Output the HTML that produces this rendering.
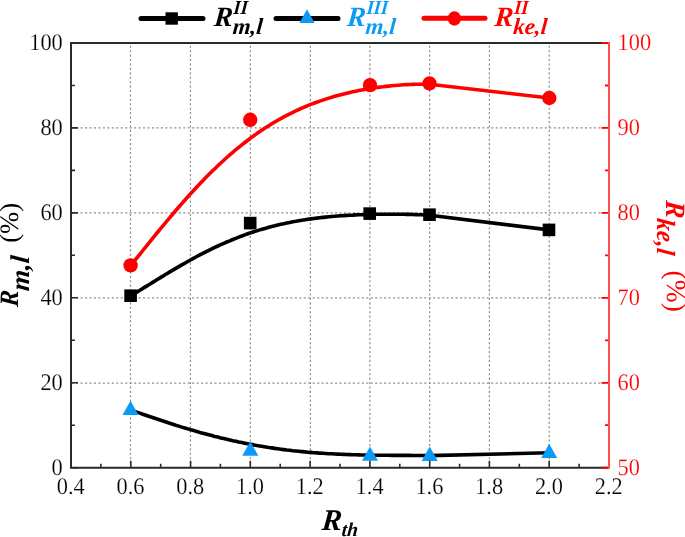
<!DOCTYPE html><html><head><meta charset="utf-8"><style>html,body{margin:0;padding:0;background:#fff;overflow:hidden}svg{display:block;will-change:transform}text{font-family:"Liberation Serif",serif;text-rendering:geometricPrecision}</style></head><body>
<svg width="685" height="537" viewBox="0 0 685 537">
<rect width="685" height="537" fill="#fff"/>
<path d="M130.50,45.75V466.7M190.45,45.75V466.7M250.35,45.75V466.7M310.40,45.75V466.7M369.85,45.75V466.7M429.65,45.75V466.7M489.40,45.75V466.7M549.25,45.75V466.7" stroke="#8e8e8e" stroke-width="1.2" stroke-dasharray="2.1 2.324" fill="none"/>
<path d="M71.6,383.20H608.0M71.6,297.80H608.0M71.6,212.90H608.0M71.6,127.80H608.0" stroke="#8e8e8e" stroke-width="1.2" stroke-dasharray="2.1 2.364" fill="none"/>
<path d="M130.8,295.7 L133.8,293.9 L136.8,292.1 L139.8,290.3 L142.8,288.4 L145.8,286.6 L148.8,284.8 L151.8,282.9 L154.8,281.1 L157.8,279.2 L160.8,277.4 L163.8,275.6 L166.8,273.7 L169.8,271.9 L172.8,270.1 L175.8,268.4 L178.8,266.6 L181.8,264.9 L184.8,263.2 L187.8,261.5 L190.8,259.8 L193.8,258.1 L196.8,256.5 L199.8,254.9 L202.8,253.4 L205.8,251.9 L208.8,250.4 L211.8,248.9 L214.8,247.4 L217.8,246.0 L220.8,244.7 L223.8,243.3 L226.8,242.0 L229.8,240.8 L232.8,239.5 L235.8,238.3 L238.8,237.1 L241.8,236.0 L244.8,234.9 L247.8,233.8 L250.8,232.8 L253.8,231.8 L256.8,230.9 L259.8,229.9 L262.8,229.0 L265.8,228.2 L268.8,227.3 L271.8,226.5 L274.8,225.8 L277.8,225.0 L280.8,224.3 L283.8,223.7 L286.8,223.0 L289.8,222.4 L292.8,221.8 L295.8,221.3 L298.8,220.7 L301.8,220.2 L304.8,219.8 L307.8,219.3 L310.8,218.9 L313.8,218.5 L316.8,218.1 L319.8,217.7 L322.8,217.4 L325.8,217.1 L328.8,216.8 L331.8,216.5 L334.8,216.2 L337.8,216.0 L340.8,215.8 L343.8,215.6 L346.8,215.4 L349.8,215.2 L352.8,215.1 L355.8,214.9 L358.8,214.8 L361.8,214.7 L364.8,214.6 L367.8,214.5 L370.8,214.4 L373.8,214.3 L376.8,214.3 L379.8,214.2 L382.8,214.2 L385.8,214.2 L388.8,214.2 L391.8,214.2 L394.8,214.2 L397.8,214.2 L400.8,214.3 L403.8,214.3 L406.8,214.4 L409.8,214.4 L412.8,214.5 L415.8,214.6 L418.8,214.7 L421.8,214.8 L424.8,215.0 L427.8,215.1 L429.7,215.2 L549.2,229.9" stroke="#000" stroke-width="3.6" fill="none" stroke-linejoin="round"/>
<path d="M130.8,410.0 L133.8,411.1 L136.8,412.1 L139.8,413.1 L142.8,414.2 L145.8,415.2 L148.8,416.3 L151.8,417.3 L154.8,418.3 L157.8,419.3 L160.8,420.3 L163.8,421.3 L166.8,422.3 L169.8,423.3 L172.8,424.2 L175.8,425.2 L178.8,426.1 L181.8,427.1 L184.8,428.0 L187.8,428.9 L190.8,429.8 L193.8,430.6 L196.8,431.5 L199.8,432.4 L202.8,433.2 L205.8,434.0 L208.8,434.8 L211.8,435.6 L214.8,436.4 L217.8,437.1 L220.8,437.9 L223.8,438.6 L226.8,439.3 L229.8,440.0 L232.8,440.7 L235.8,441.3 L238.8,442.0 L241.8,442.6 L244.8,443.2 L247.8,443.8 L250.8,444.4 L253.8,444.9 L256.8,445.5 L259.8,446.0 L262.8,446.5 L265.8,447.0 L268.8,447.5 L271.8,447.9 L274.8,448.4 L277.8,448.8 L280.8,449.2 L283.8,449.6 L286.8,450.0 L289.8,450.3 L292.8,450.7 L295.8,451.0 L298.8,451.3 L301.8,451.6 L304.8,451.9 L307.8,452.2 L310.8,452.4 L313.8,452.7 L316.8,452.9 L319.8,453.1 L322.8,453.3 L325.8,453.5 L328.8,453.7 L331.8,453.8 L334.8,454.0 L337.8,454.1 L340.8,454.3 L343.8,454.4 L346.8,454.5 L349.8,454.6 L352.8,454.7 L355.8,454.8 L358.8,454.9 L361.8,455.0 L364.8,455.0 L367.8,455.1 L370.8,455.1 L373.8,455.2 L376.8,455.2 L379.8,455.3 L382.8,455.3 L385.8,455.3 L388.8,455.3 L391.8,455.4 L394.8,455.4 L397.8,455.4 L400.8,455.4 L403.8,455.4 L406.8,455.4 L409.8,455.4 L412.8,455.5 L415.8,455.5 L418.8,455.5 L421.8,455.5 L424.8,455.6 L427.8,455.6 L429.6,455.6 L549.2,452.8" stroke="#000" stroke-width="3.6" fill="none" stroke-linejoin="round"/>
<path d="M130.8,265.4 L133.8,261.7 L136.8,258.0 L139.8,254.3 L142.8,250.5 L145.8,246.8 L148.8,243.1 L151.8,239.4 L154.8,235.7 L157.8,232.0 L160.8,228.4 L163.8,224.8 L166.8,221.1 L169.8,217.6 L172.8,214.0 L175.8,210.5 L178.8,207.0 L181.8,203.6 L184.8,200.2 L187.8,196.8 L190.8,193.5 L193.8,190.2 L196.8,187.0 L199.8,183.8 L202.8,180.7 L205.8,177.6 L208.8,174.6 L211.8,171.6 L214.8,168.7 L217.8,165.8 L220.8,163.0 L223.8,160.2 L226.8,157.5 L229.8,154.9 L232.8,152.3 L235.8,149.7 L238.8,147.3 L241.8,144.9 L244.8,142.5 L247.8,140.2 L250.8,137.9 L253.8,135.8 L256.8,133.6 L259.8,131.6 L262.8,129.5 L265.8,127.6 L268.8,125.7 L271.8,123.8 L274.8,122.0 L277.8,120.3 L280.8,118.6 L283.8,116.9 L286.8,115.4 L289.8,113.8 L292.8,112.3 L295.8,110.9 L298.8,109.5 L301.8,108.2 L304.8,106.9 L307.8,105.6 L310.8,104.4 L313.8,103.3 L316.8,102.2 L319.8,101.1 L322.8,100.1 L325.8,99.1 L328.8,98.1 L331.8,97.2 L334.8,96.3 L337.8,95.5 L340.8,94.7 L343.8,93.9 L346.8,93.2 L349.8,92.5 L352.8,91.8 L355.8,91.2 L358.8,90.6 L361.8,90.0 L364.8,89.4 L367.8,88.9 L370.8,88.4 L373.8,88.0 L376.8,87.5 L379.8,87.1 L382.8,86.8 L385.8,86.4 L388.8,86.1 L391.8,85.8 L394.8,85.5 L397.8,85.2 L400.8,85.0 L403.8,84.8 L406.8,84.6 L409.8,84.5 L412.8,84.4 L415.8,84.3 L418.8,84.2 L421.8,84.2 L424.8,84.2 L427.8,84.2 L429.6,84.2 L549.3,98.0" stroke="#f00" stroke-width="3.6" fill="none" stroke-linejoin="round"/>
<rect x="124.3" y="289.4" width="12.6" height="12.6" fill="#000"/>
<rect x="243.9" y="216.8" width="12.6" height="12.6" fill="#000"/>
<rect x="363.4" y="207.3" width="12.6" height="12.6" fill="#000"/>
<rect x="423.2" y="208.4" width="12.6" height="12.6" fill="#000"/>
<rect x="542.7" y="223.6" width="12.6" height="12.6" fill="#000"/>
<circle cx="130.6" cy="265.4" r="7.2" fill="#f00"/>
<circle cx="250.2" cy="119.8" r="7.2" fill="#f00"/>
<circle cx="370" cy="85.1" r="7.2" fill="#f00"/>
<circle cx="429.5" cy="83.5" r="7.2" fill="#f00"/>
<circle cx="549.3" cy="98" r="7.2" fill="#f00"/>
<path d="M130.5,400.8L138.5,415.1L122.5,415.1Z" fill="#0a9bf7"/>
<path d="M250.3,441.5L258.3,455.8L242.3,455.8Z" fill="#0a9bf7"/>
<path d="M370,446.4L378,460.7L362,460.7Z" fill="#0a9bf7"/>
<path d="M429.7,446.6L437.7,460.90000000000003L421.7,460.90000000000003Z" fill="#0a9bf7"/>
<path d="M549.2,443.8L557.2,458.1L541.2,458.1Z" fill="#0a9bf7"/>
<path d="M71.0,467.7h7M71.0,425.2h4M71.0,382.8h7M71.0,340.3h4M71.0,297.8h7M71.0,255.3h4M71.0,212.9h7M71.0,170.4h4M71.0,127.9h7M71.0,85.5h4M71.0,43.0h7M71.0,467.7v-7M100.9,467.7v-4M130.8,467.7v-7M160.7,467.7v-4M190.6,467.7v-7M220.4,467.7v-4M250.3,467.7v-7M280.2,467.7v-4M310.1,467.7v-7M340.0,467.7v-4M369.9,467.7v-7M399.8,467.7v-4M429.7,467.7v-7M459.6,467.7v-4M489.4,467.7v-7M519.3,467.7v-4M549.2,467.7v-7M579.1,467.7v-4M609.0,467.7v-7" stroke="#2b2b2b" stroke-width="1.6" fill="none"/>
<path d="M71.0,43.0H609.0M71.0,42.0V468.7M70.0,467.7H609.0" stroke="#2b2b2b" stroke-width="2" fill="none"/>
<path d="M609.0,467.7h-7.5M609.0,425.2h-4M609.0,382.8h-7.5M609.0,340.3h-4M609.0,297.8h-7.5M609.0,255.3h-4M609.0,212.9h-7.5M609.0,170.4h-4M609.0,127.9h-7.5M609.0,85.5h-4M609.0,43.0h-7.5" stroke="#f00" stroke-width="1.8" fill="none"/>
<path d="M609.0,42.0V468.7" stroke="#ff5050" stroke-width="2" fill="none"/>
<text transform="translate(62.8,474.5) scale(0.94,1)" font-size="23.8" text-anchor="end" stroke="#fff" stroke-width="0.2">0</text>
<text transform="translate(62.8,389.6) scale(0.94,1)" font-size="23.8" text-anchor="end" stroke="#fff" stroke-width="0.2">20</text>
<text transform="translate(62.8,304.6) scale(0.94,1)" font-size="23.8" text-anchor="end" stroke="#fff" stroke-width="0.2">40</text>
<text transform="translate(62.8,219.7) scale(0.94,1)" font-size="23.8" text-anchor="end" stroke="#fff" stroke-width="0.2">60</text>
<text transform="translate(62.8,134.7) scale(0.94,1)" font-size="23.8" text-anchor="end" stroke="#fff" stroke-width="0.2">80</text>
<text transform="translate(62.8,49.8) scale(0.94,1)" font-size="23.8" text-anchor="end" stroke="#fff" stroke-width="0.2">100</text>
<text transform="translate(617.6,474.5) scale(0.94,1)" font-size="23.8" fill="#f00" stroke="#fff" stroke-width="0.2">50</text>
<text transform="translate(617.6,389.6) scale(0.94,1)" font-size="23.8" fill="#f00" stroke="#fff" stroke-width="0.2">60</text>
<text transform="translate(617.6,304.6) scale(0.94,1)" font-size="23.8" fill="#f00" stroke="#fff" stroke-width="0.2">70</text>
<text transform="translate(617.6,219.7) scale(0.94,1)" font-size="23.8" fill="#f00" stroke="#fff" stroke-width="0.2">80</text>
<text transform="translate(617.6,134.7) scale(0.94,1)" font-size="23.8" fill="#f00" stroke="#fff" stroke-width="0.2">90</text>
<text transform="translate(617.6,49.8) scale(0.94,1)" font-size="23.8" fill="#f00" stroke="#fff" stroke-width="0.2">100</text>
<text transform="translate(70.7,494.2) scale(0.94,1)" font-size="23.8" text-anchor="middle" stroke="#fff" stroke-width="0.2">0.4</text>
<text transform="translate(130.5,494.2) scale(0.94,1)" font-size="23.8" text-anchor="middle" stroke="#fff" stroke-width="0.2">0.6</text>
<text transform="translate(190.3,494.2) scale(0.94,1)" font-size="23.8" text-anchor="middle" stroke="#fff" stroke-width="0.2">0.8</text>
<text transform="translate(250.0,494.2) scale(0.94,1)" font-size="23.8" text-anchor="middle" stroke="#fff" stroke-width="0.2">1.0</text>
<text transform="translate(309.8,494.2) scale(0.94,1)" font-size="23.8" text-anchor="middle" stroke="#fff" stroke-width="0.2">1.2</text>
<text transform="translate(369.6,494.2) scale(0.94,1)" font-size="23.8" text-anchor="middle" stroke="#fff" stroke-width="0.2">1.4</text>
<text transform="translate(429.4,494.2) scale(0.94,1)" font-size="23.8" text-anchor="middle" stroke="#fff" stroke-width="0.2">1.6</text>
<text transform="translate(489.1,494.2) scale(0.94,1)" font-size="23.8" text-anchor="middle" stroke="#fff" stroke-width="0.2">1.8</text>
<text transform="translate(548.9,494.2) scale(0.94,1)" font-size="23.8" text-anchor="middle" stroke="#fff" stroke-width="0.2">2.0</text>
<text transform="translate(608.7,494.2) scale(0.94,1)" font-size="23.8" text-anchor="middle" stroke="#fff" stroke-width="0.2">2.2</text>
<text transform="translate(321.30,529.80) skewX(-5.0)" font-size="30" font-weight="bold" font-style="italic">R</text>
<text transform="translate(341.30,536.30) skewX(-5.0)" font-size="19.5" font-weight="bold" font-style="italic">th</text>
<g transform="translate(18,306.7) rotate(-90)"><text transform="translate(-0.50,0.00) skewX(-5.0) scale(0.93,1)" font-size="26.5" font-weight="bold" font-style="italic">R</text><text transform="translate(15.30,11.00) skewX(-5.0)" font-size="27" font-weight="bold" font-style="italic">m,l</text><text x="64" y="-0.5" font-size="26.5">(%)</text></g>
<g transform="translate(665.8,199.6) rotate(90)" fill="#f00"><text transform="translate(0.40,0.00) skewX(-5.0) scale(0.94,1)" font-size="28" font-weight="bold" font-style="italic">R</text><text transform="translate(18.20,9.20) skewX(-5.0) scale(0.95,1)" font-size="26.2" font-weight="bold" font-style="italic">ke,l</text><text x="71" y="-1" font-size="27.5" font-weight="normal">(%)</text></g>
<path d="M141,18.4H203" stroke="#000" stroke-width="5" stroke-linecap="round"/>
<rect x="165.5" y="12.3" width="12.4" height="12.4" fill="#000"/>
<path d="M276,18.4H338" stroke="#000" stroke-width="5" stroke-linecap="round"/>
<path d="M307,9.2L314.6,22.9L299.4,22.9Z" fill="#0a9bf7"/>
<path d="M424,18.3H485" stroke="#f00" stroke-width="5" stroke-linecap="round"/>
<ellipse cx="454.4" cy="18.5" rx="6.7" ry="7.2" fill="#f00"/>
<g fill="#000"><text transform="translate(213.40,26.40) skewX(-5.0)" font-size="28" font-weight="bold" font-style="italic">R</text><text transform="translate(233.00,14.20) skewX(-5.0) scale(0.92,1)" font-size="20" font-weight="bold" font-style="italic">II</text><text transform="translate(232.20,34.20) skewX(-5.0)" font-size="23" font-weight="bold" font-style="italic">m,l</text></g>
<g fill="#0a9bf7"><text transform="translate(346.60,26.40) skewX(-5.0)" font-size="28" font-weight="bold" font-style="italic">R</text><text transform="translate(366.20,14.20) skewX(-5.0) scale(0.92,1)" font-size="20" font-weight="bold" font-style="italic">III</text><text transform="translate(365.00,34.20) skewX(-5.0)" font-size="23" font-weight="bold" font-style="italic">m,l</text></g>
<g fill="#f00"><text transform="translate(494.10,26.40) skewX(-5.0)" font-size="28" font-weight="bold" font-style="italic">R</text><text transform="translate(513.70,14.20) skewX(-5.0) scale(0.92,1)" font-size="20" font-weight="bold" font-style="italic">II</text><text transform="translate(512.70,34.20) skewX(-5.0)" font-size="23" font-weight="bold" font-style="italic">ke,l</text></g>
</svg></body></html>
